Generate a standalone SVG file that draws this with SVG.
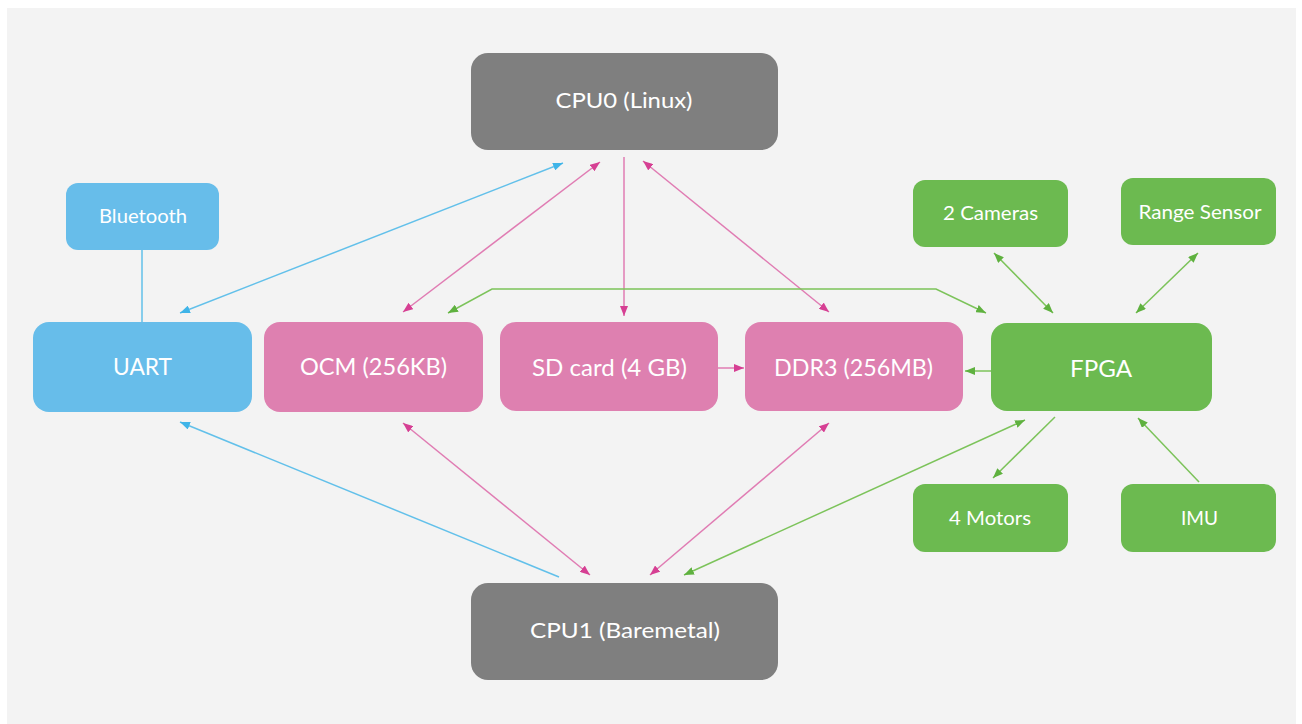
<svg xmlns="http://www.w3.org/2000/svg" width="1302" height="724" viewBox="0 0 1302 724">
  <style>
    .node text { font-family: Lato, "Open Sans", "Liberation Sans", sans-serif; fill: #ffffff; text-anchor: middle; }
    .big { font-size: 23px; }
    .cpu { font-size: 22px; }
    .small { font-size: 20px; }
    .gray { fill: #7f7f7f; }
    .blue { fill: #67bdea; }
    .pink { fill: #de80b0; }
    .green { fill: #6cba50; }
    .c-blue { stroke: #62c0ea; }
    .c-pink { stroke: #e07cb3; }
    .c-green { stroke: #7cc35a; }
    #connectors path, #connectors line { fill: none; stroke-width: 1.5; }
  </style>
  <defs>
    <marker id="ah-blue" viewBox="0 0 10 8" refX="10" refY="4" markerWidth="10" markerHeight="8" markerUnits="userSpaceOnUse" orient="auto-start-reverse">
      <path d="M0,0 L10,4 L0,8 z" fill="#3fb4e8"/>
    </marker>
    <marker id="ah-pink" viewBox="0 0 10 8" refX="10" refY="4" markerWidth="10" markerHeight="8" markerUnits="userSpaceOnUse" orient="auto-start-reverse">
      <path d="M0,0 L10,4 L0,8 z" fill="#d63f93"/>
    </marker>
    <marker id="ah-green" viewBox="0 0 10 8" refX="10" refY="4" markerWidth="10" markerHeight="8" markerUnits="userSpaceOnUse" orient="auto-start-reverse">
      <path d="M0,0 L10,4 L0,8 z" fill="#5fb13f"/>
    </marker>
  </defs>

  <!-- canvas -->
  <rect x="0" y="0" width="1302" height="724" fill="#ffffff"/>
  <rect x="7" y="8" width="1289" height="716" fill="#f3f3f3"/>

  <!-- connectors -->
  <g id="connectors">
    <!-- CPU0 links -->
    <line class="c-blue" x1="180" y1="313" x2="563" y2="163" marker-start="url(#ah-blue)" marker-end="url(#ah-blue)"/>
    <line class="c-pink" x1="403" y1="312" x2="600" y2="162" marker-start="url(#ah-pink)" marker-end="url(#ah-pink)"/>
    <line class="c-pink" x1="624" y1="157" x2="624" y2="316" marker-end="url(#ah-pink)"/>
    <line class="c-pink" x1="643" y1="161" x2="829" y2="312" marker-start="url(#ah-pink)" marker-end="url(#ah-pink)"/>
    <!-- FPGA to OCM over the memory row -->
    <path class="c-green" d="M448,313 L492,289 L936,289 L986,313" marker-start="url(#ah-green)" marker-end="url(#ah-green)"/>
    <!-- memory row -->
    <line class="c-pink" x1="718" y1="368" x2="744" y2="368" marker-end="url(#ah-pink)"/>
    <line class="c-green" x1="991" y1="371" x2="965" y2="371" marker-end="url(#ah-green)"/>
    <line class="c-blue" x1="142" y1="250" x2="142" y2="322"/>
    <!-- FPGA peripherals -->
    <line class="c-green" x1="994" y1="253" x2="1053" y2="313" marker-start="url(#ah-green)" marker-end="url(#ah-green)"/>
    <line class="c-green" x1="1198" y1="253" x2="1136" y2="313" marker-start="url(#ah-green)" marker-end="url(#ah-green)"/>
    <line class="c-green" x1="1055" y1="417" x2="993" y2="478" marker-end="url(#ah-green)"/>
    <line class="c-green" x1="1199" y1="482" x2="1138" y2="418" marker-end="url(#ah-green)"/>
    <!-- CPU1 links -->
    <line class="c-blue" x1="559" y1="577" x2="180" y2="422" marker-end="url(#ah-blue)"/>
    <line class="c-pink" x1="403" y1="423" x2="590" y2="575" marker-start="url(#ah-pink)" marker-end="url(#ah-pink)"/>
    <line class="c-pink" x1="829" y1="423" x2="650" y2="575" marker-start="url(#ah-pink)" marker-end="url(#ah-pink)"/>
    <line class="c-green" x1="1025" y1="420" x2="684" y2="575" marker-start="url(#ah-green)" marker-end="url(#ah-green)"/>
  </g>

  <!-- nodes -->
  <g id="cpu0" class="node">
    <rect class="gray" x="471" y="53" width="307" height="97" rx="17"/>
    <text class="cpu" x="624" y="108" textLength="137" lengthAdjust="spacingAndGlyphs">CPU0 (Linux)</text>
  </g>
  <g id="cpu1" class="node">
    <rect class="gray" x="471" y="583" width="307" height="97" rx="17"/>
    <text class="cpu" x="625" y="638" textLength="190" lengthAdjust="spacingAndGlyphs">CPU1 (Baremetal)</text>
  </g>
  <g id="bluetooth" class="node">
    <rect class="blue" x="66" y="183" width="153" height="67" rx="12"/>
    <text class="small" x="143" y="223" textLength="88" lengthAdjust="spacingAndGlyphs">Bluetooth</text>
  </g>
  <g id="uart" class="node">
    <rect class="blue" x="33" y="322" width="219" height="90" rx="16"/>
    <text class="big" x="142.5" y="375" textLength="59" lengthAdjust="spacingAndGlyphs">UART</text>
  </g>
  <g id="ocm" class="node">
    <rect class="pink" x="264" y="322" width="219" height="90" rx="16"/>
    <text class="big" x="373.5" y="375" textLength="147" lengthAdjust="spacingAndGlyphs">OCM (256KB)</text>
  </g>
  <g id="sdcard" class="node">
    <rect class="pink" x="500" y="322" width="218" height="89" rx="16"/>
    <text class="big" x="609.5" y="376" textLength="155" lengthAdjust="spacingAndGlyphs">SD card (4 GB)</text>
  </g>
  <g id="ddr3" class="node">
    <rect class="pink" x="745" y="322" width="218" height="89" rx="16"/>
    <text class="big" x="853.5" y="376" textLength="159" lengthAdjust="spacingAndGlyphs">DDR3 (256MB)</text>
  </g>
  <g id="fpga" class="node">
    <rect class="green" x="991" y="323" width="221" height="88" rx="16"/>
    <text class="big" x="1101" y="377" textLength="62" lengthAdjust="spacingAndGlyphs">FPGA</text>
  </g>
  <g id="cameras" class="node">
    <rect class="green" x="913" y="180" width="155" height="67" rx="12"/>
    <text class="small" x="990.5" y="220" textLength="95" lengthAdjust="spacingAndGlyphs">2 Cameras</text>
  </g>
  <g id="range-sensor" class="node">
    <rect class="green" x="1121" y="178" width="155" height="67" rx="12"/>
    <text class="small" x="1200" y="219" textLength="123" lengthAdjust="spacingAndGlyphs">Range Sensor</text>
  </g>
  <g id="motors" class="node">
    <rect class="green" x="913" y="484" width="155" height="68" rx="12"/>
    <text class="small" x="990" y="525" textLength="82" lengthAdjust="spacingAndGlyphs">4 Motors</text>
  </g>
  <g id="imu" class="node">
    <rect class="green" x="1121" y="484" width="155" height="68" rx="12"/>
    <text class="small" x="1199.5" y="525" textLength="37" lengthAdjust="spacingAndGlyphs">IMU</text>
  </g>
</svg>
